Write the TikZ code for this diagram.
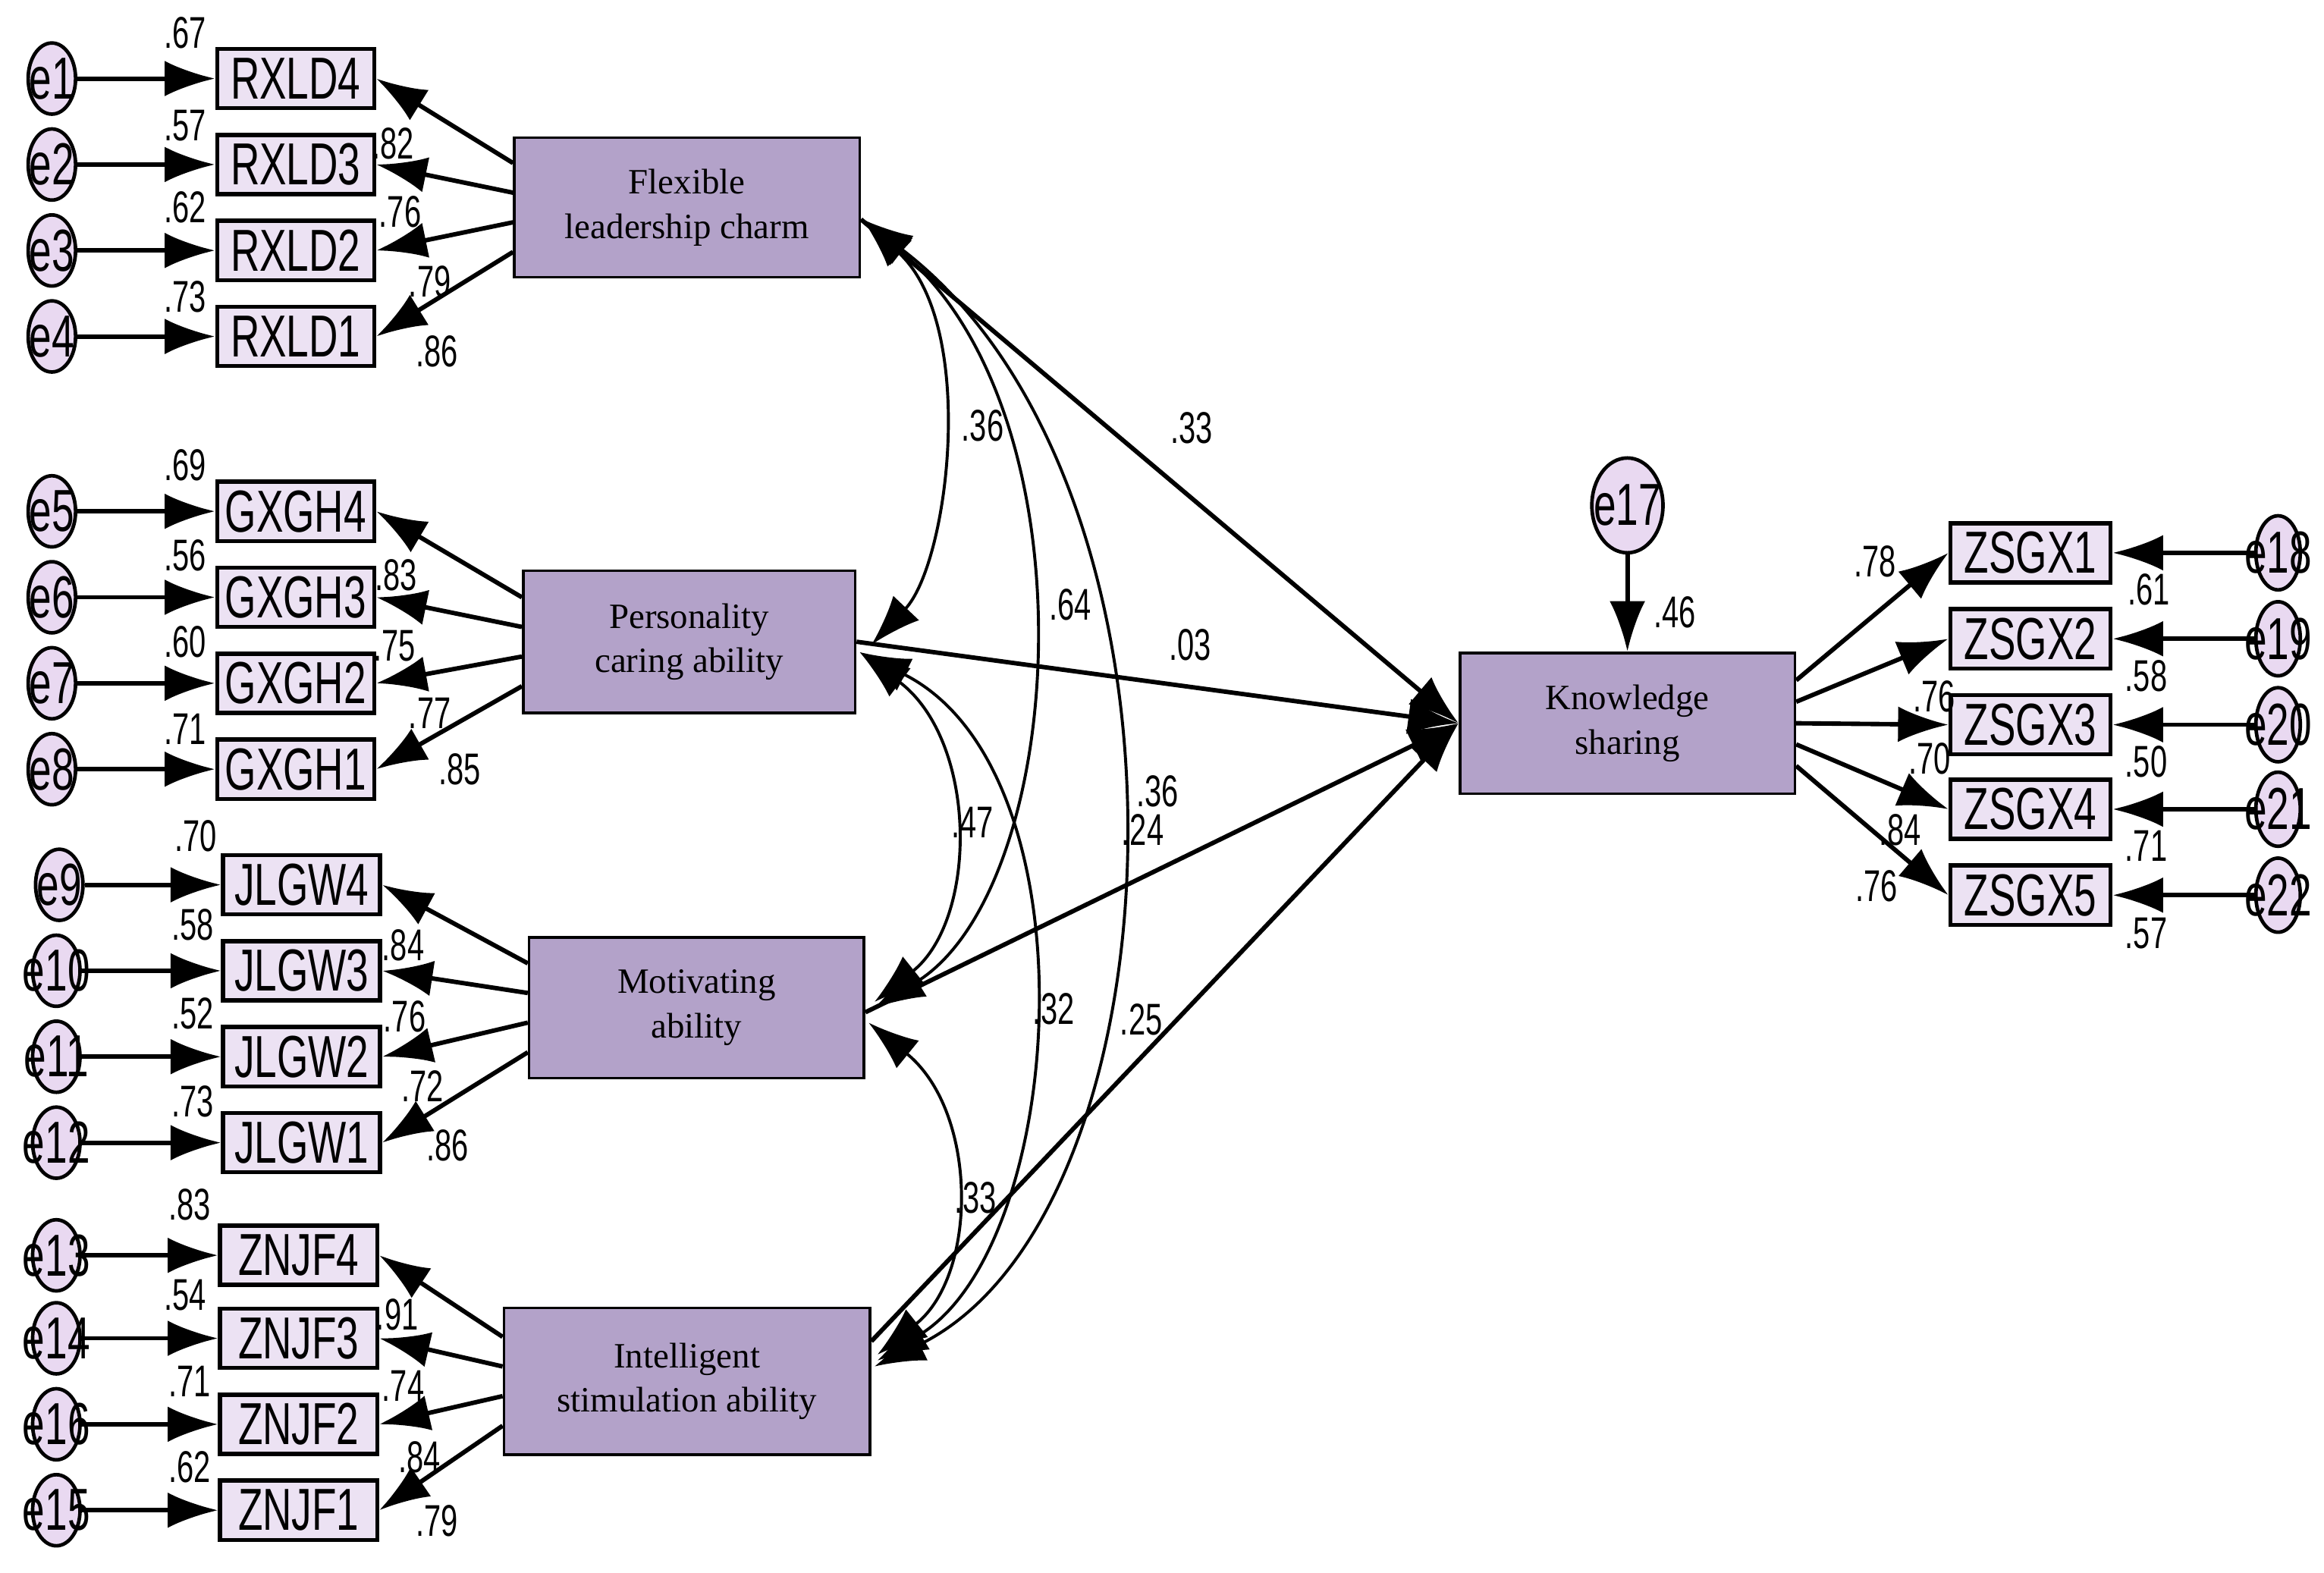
\documentclass[tikz,border=0pt]{standalone}
\usepackage{fontspec}
\setmainfont{Liberation Serif}
\newfontfamily\narrow[FakeStretch=0.68]{Liberation Sans}
\usetikzlibrary{arrows.meta,shapes.geometric}
\definecolor{lat}{HTML}{B3A2C9}
\definecolor{ind}{HTML}{ECE2F3}
\definecolor{err}{HTML}{E9D9F1}
\begin{document}
\begin{tikzpicture}[x=1pt,y=-1pt,
 ar/.style={-{Latex[length=34pt,width=24pt]},line width=3pt},
 dar/.style={{Latex[length=34pt,width=24pt]}-{Latex[length=34pt,width=24pt]},line width=2pt},
 obs/.style={draw,line width=2.8pt,fill=ind,minimum width=106pt,minimum height=40pt,inner sep=0pt,font=\narrow\fontsize{40}{40}\selectfont},
 er/.style={draw,ellipse,line width=2.4pt,fill=err,minimum width=32pt,minimum height=48pt,inner sep=0pt,
   label={[font=\narrow\fontsize{40}{40}\selectfont,inner sep=0pt]center:#1}},
 lv/.style={draw,line width=1.8pt,fill=lat,inner sep=0pt,align=center,font=\fontsize{24}{30}\selectfont},
 lb/.style={font=\narrow\fontsize{30}{30}\selectfont,inner sep=0pt}]
\useasboundingbox (0,0) rectangle (1568,1061);
% latents
\node[lv,minimum width=233pt,minimum height=94pt] (F) at (463.5,140) {Flexible\\leadership charm};
\node[lv,minimum width=224pt,minimum height=96pt] (P) at (465,433) {Personality\\caring ability};
\node[lv,minimum width=226pt,minimum height=95pt] (M) at (470,680) {Motivating\\ability};
\node[lv,minimum width=247pt,minimum height=99pt] (I) at (463.5,932) {Intelligent\\stimulation ability};
\node[lv,minimum width=226pt,minimum height=95pt] (K) at (1098,488) {Knowledge\\sharing};
% indicators
\foreach \n/\t/\x/\y/\e/\ex in {R4/RXLD4/199.5/53/e1/35, R3/RXLD3/199.5/111/e2/35, R2/RXLD2/199.5/169/e3/35, R1/RXLD1/199.5/227/e4/35,
 G4/GXGH4/199.5/345/e5/35, G3/GXGH3/199.5/403/e6/35, G2/GXGH2/199.5/461/e7/35, G1/GXGH1/199.5/519/e8/35,
 J4/JLGW4/203.5/597/e9/40, J3/JLGW3/203.5/655/e10/38, J2/JLGW2/203.5/713/e11/38, J1/JLGW1/203.5/771/e12/38,
 Z4/ZNJF4/201.5/847/e13/38, Z3/ZNJF3/201.5/903/e14/38, Z2/ZNJF2/201.5/961/e16/38, Z1/ZNJF1/201.5/1019/e15/38}{
 \node[obs] (\n) at (\x,\y) {\t};
 \node[er=\e] (\e) at (\ex,\y) {};
 \draw[ar] (\e) -- (\n);
}
\foreach \n/\l/\dy in {R4/F/30,R3/F/10,R2/F/-10,R1/F/-30,G4/P/30,G3/P/10,G2/P/-10,G1/P/-30,J4/M/30,J3/M/10,J2/M/-10,J1/M/-30,Z4/I/30,Z3/I/10,Z2/I/-10,Z1/I/-30}{
 \draw[ar] ([yshift=\dy pt]\l.west) -- (\n.east);
}
% right side
\node[er=e17,minimum width=48pt,minimum height=64pt] (e17) at (1098,341) {};
\draw[ar] (e17) -- (K);
\foreach \n/\t/\y/\e in {S1/ZSGX1/373/e18, S2/ZSGX2/431/e19, S3/ZSGX3/489/e20, S4/ZSGX4/546/e21, S5/ZSGX5/604/e22}{
 \node[obs,minimum width=108pt] (\n) at (1370,\y) {\t};
 \node[er=\e,minimum width=30pt,minimum height=50pt] (\e) at (1537,\y) {};
 \draw[ar] (\e) -- (\n);
 \draw[ar] ([yshift=(489-\y)*0.25 pt]K.east) -- (\n.west);
}
% structural paths
\draw[ar] ([yshift=-8pt]F.east) -- (K.west);
\draw[ar] (P.east) -- (K.west);
\draw[ar] ([yshift=-3pt]M.east) -- (K.west);
\draw[ar] ([yshift=27pt]I.east) -- (K.west);
% covariances
\coordinate (f1) at (582,148);
\draw[dar] (f1) .. controls (660,220) and (640,380) .. (588,435);
\draw[dar] (f1) .. controls (740,280) and (720,600) .. (590,680);
\draw[dar] (f1) .. controls (820,330) and (800,820) .. (590,922);
\draw[dar] (580,440) .. controls (660,500) and (660,620) .. (590,676);
\draw[dar] (580,440) .. controls (740,520) and (720,840) .. (592,918);
\draw[dar] (586,690) .. controls (660,750) and (660,860) .. (592,914);
% labels
\foreach \x/\y/\t in {125/22/.67,125/85/.57,125/140/.62,125/200/.73,
 265/97/.82,270/143/.76,290/190/.79,295/237/.86,
 125/314/.69,125/375/.56,125/433/.60,125/492/.71,
 267/388/.83,266/436/.75,290/481/.77,310/519/.85,
 132/564/.70,130/624/.58,130/684/.52,130/743/.73,
 272/638/.84,273/686/.76,285/733/.72,302/773/.86,
 128/813/.83,125/874/.54,128/932/.71,128/990/.62,
 268/887/.91,272/935/.74,283/983/.84,295/1026/.79,
 804/289/.33,803/435/.03,781/534/.36,771/560/.24,770/688/.25,
 663/287/.36,722/408/.64,656/555/.47,711/681/.32,658/808/.33,
 1265/379/.78,1450/398/.61,1130/413/.46,1305/470/.76,1448/456/.58,1302/512/.70,
 1448/514/.50,1282/560/.84,1266/598/.76,1448/571/.71,1448/630/.57}{
 \node[lb] at (\x,\y) {\t};
}
\end{tikzpicture}
\end{document}
